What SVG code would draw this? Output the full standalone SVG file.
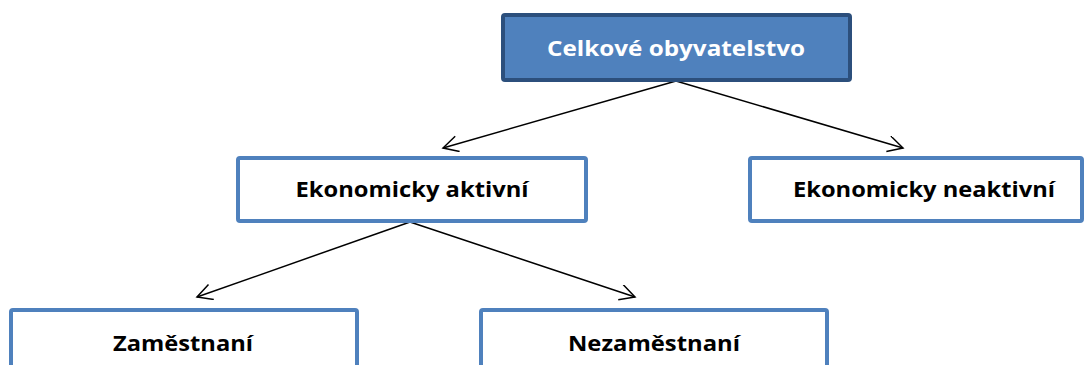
<svg xmlns="http://www.w3.org/2000/svg" width="1085" height="365" viewBox="0 0 1085 365">
<style>
.box{fill:#ffffff;stroke:#4F81BD;stroke-width:4}
.top{fill:#4F81BD;stroke:#2C4F7C;stroke-width:4}
.t{font-family:"Open Sans","Liberation Sans",sans-serif;font-weight:bold;font-size:22px;text-anchor:middle;fill:#000}
.tw{fill:#ffffff}
.c{stroke:#000;stroke-width:1.5;fill:none;marker-end:url(#arr)}
</style>
<defs>
<marker id="arr" markerWidth="22" markerHeight="20" refX="17" refY="8" orient="auto" markerUnits="userSpaceOnUse">
<path d="M2,0 L17,8 L2,16" fill="none" stroke="#000" stroke-width="1.5"/>
</marker>
</defs>
<g id="connectors">
<line class="c" x1="676" y1="81" x2="443" y2="148"/>
<line class="c" x1="676" y1="81" x2="903" y2="148"/>
<line class="c" x1="410" y1="222" x2="197" y2="297"/>
<line class="c" x1="410" y1="222" x2="635" y2="297"/>
</g>
<g id="celkove">
<rect class="top" x="503" y="15" width="347" height="65" rx="2"/>
<text class="t tw" x="676" y="56" textLength="258" lengthAdjust="spacingAndGlyphs">Celkové obyvatelstvo</text>
</g>
<g id="aktivni">
<rect class="box" x="238" y="158" width="348" height="63" rx="2"/>
<text class="t" x="412" y="197" textLength="233" lengthAdjust="spacingAndGlyphs">Ekonomicky aktivní</text>
</g>
<g id="neaktivni">
<rect class="box" x="750" y="158" width="332" height="63" rx="2"/>
<text class="t" x="924" y="197" textLength="262" lengthAdjust="spacingAndGlyphs">Ekonomicky neaktivní</text>
</g>
<g id="zamestnani">
<rect class="box" x="11" y="310" width="346" height="70" rx="2"/>
<text class="t" x="183" y="351" textLength="140" lengthAdjust="spacingAndGlyphs">Zaměstnaní</text>
</g>
<g id="nezamestnani">
<rect class="box" x="481" y="310" width="346" height="70" rx="2"/>
<text class="t" x="654" y="351" textLength="172" lengthAdjust="spacingAndGlyphs">Nezaměstnaní</text>
</g>
</svg>
